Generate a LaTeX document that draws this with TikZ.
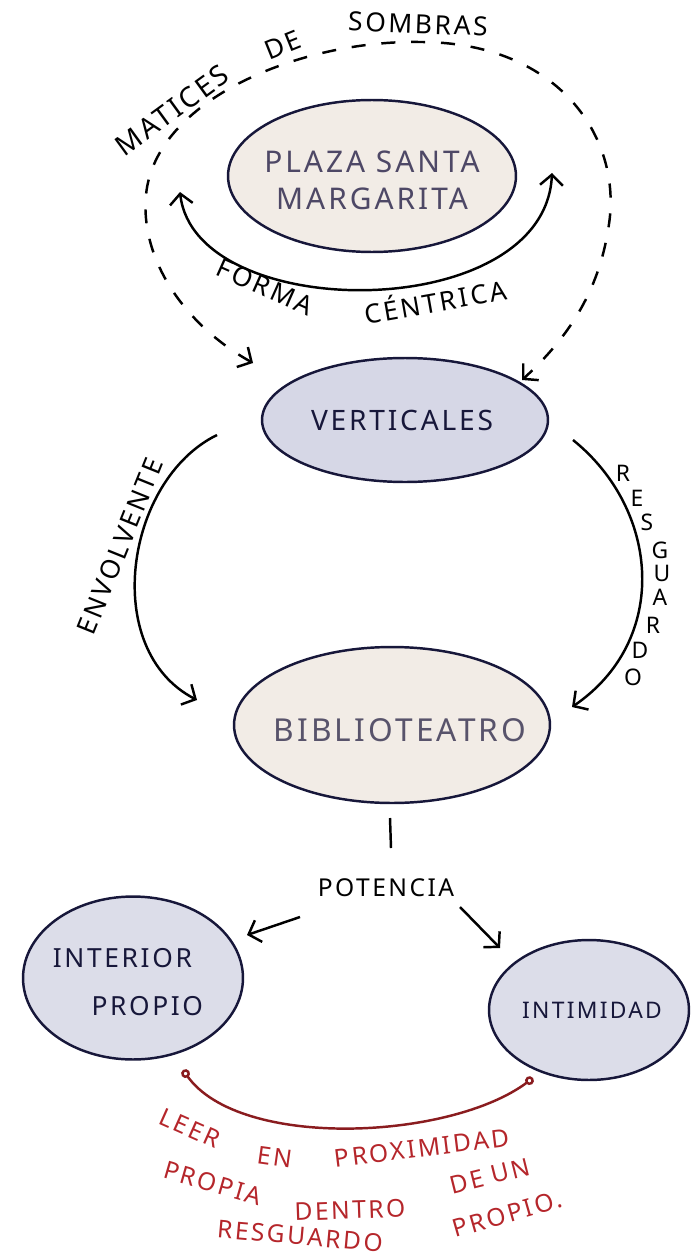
\documentclass[tikz,border=0pt]{standalone}
\usepackage{fontspec}
\setmainfont{Noto Sans}
\newfontfamily\mano[LetterSpace=10]{Noto Sans}
\usetikzlibrary{shapes.geometric,arrows.meta}

\definecolor{beige}{HTML}{F2ECE6}
\definecolor{lavanda}{HTML}{D6D7E6}
\definecolor{lavclaro}{HTML}{DCDDE9}
\definecolor{tinta}{HTML}{17173A}
\definecolor{gristxt}{HTML}{4E4866}
\definecolor{rojo}{HTML}{B5262B}
\definecolor{rojoosc}{HTML}{8A1C1F}

\begin{document}
\begin{tikzpicture}[x=0.02cm,y=-0.02cm,
		burbuja/.style={ellipse, draw=tinta, line width=1.4pt, inner sep=0pt},
		flecha/.style={line width=1.4pt, -{Straight Barb[length=6pt,width=13pt]}},
		dobleflecha/.style={line width=1.4pt, {Straight Barb[length=6pt,width=13pt]}-{Straight Barb[length=6pt,width=13pt]}},
		discontinua/.style={dobleflecha, dash pattern=on 8pt off 9pt},
		rotulo/.style={inner sep=0pt, font=\mano\fontsize{15}{18}\selectfont},
		rojotxt/.style={inner sep=0pt, text=rojo, font=\mano\fontsize{14}{17}\selectfont}]

		\useasboundingbox (0,0) rectangle (690,1257);

		% Burbujas
		\node[burbuja, fill=beige, minimum width=5.76cm, minimum height=3.04cm] (plaza) at (372,176) {};
		\node[burbuja, fill=lavanda, minimum width=5.72cm, minimum height=2.48cm] (vert) at (405,420) {};
		\node[burbuja, fill=beige, minimum width=6.32cm, minimum height=3.12cm] (biblio) at (392,725) {};
		\node[burbuja, fill=lavclaro, minimum width=4.4cm, minimum height=3.26cm] (interior) at (133,978) {};
		\node[burbuja, fill=lavclaro, minimum width=4.0cm, minimum height=2.8cm] (intim) at (589,1010) {};

		% Textos de las burbujas
		\node[rotulo, text=gristxt, align=center, font=\mano\fontsize{17}{21}\selectfont] (plazaT) at (372,180) {PLAZA SANTA\\MARGARITA};
		\node[rotulo, text=tinta, font=\mano\fontsize{16}{19}\selectfont] (vertT) at (402,420) {VERTICALES};
		\node[rotulo, text=gristxt!80!gray, font=\mano\fontsize{18}{21}\selectfont] (biblioT) at (400,730) {BIBLIOTEATRO};
		\node[rotulo, text=tinta, align=left, font=\mano\fontsize{15}{27}\selectfont] (interiorT) at (128,982) {INTERIOR\\\hspace*{22pt}PROPIO};
		\node[rotulo, text=tinta, font=\mano\fontsize{13}{15}\selectfont] (intimT) at (592,1010) {INTIMIDAD};

		% Forma centrica
		\coordinate (fc1) at (180,192);
		\coordinate (fc2) at (552,173);
		\draw[dobleflecha] (fc1) .. controls (195,325) and (545,325) .. (fc2);
		\node[rotulo, rotate=-24] (forma) at (265,287) {FORMA};
		\node[rotulo, rotate=10] (centrica) at (435,300) {CÉNTRICA};

		% Matices de sombras
		\coordinate (dizq) at (253,363);
		\coordinate (dder) at (522,380);
		\draw[discontinua] (dizq) .. controls (185,325) and (140,260) .. (146,195)
			.. controls (155,100) and (300,40) .. (420,42)
			.. controls (560,42) and (625,140) .. (608,230)
			.. controls (597,300) and (560,345) .. (dder);
		\node[rotulo, rotate=36, font=\mano\fontsize{16}{18}\selectfont] (matices) at (172,110) {MATICES};
		\node[rotulo, rotate=22] (de) at (283,45) {DE};
		\node[rotulo, rotate=-2] (sombras) at (418,24) {SOMBRAS};

		% Envolvente y resguardo
		\coordinate (env1) at (217,435);
		\coordinate (env2) at (197,700);
		\draw[flecha] (env1) .. controls (125,480) and (100,650) .. (env2);
		\node[rotulo, rotate=68] (envT) at (120,546) {ENVOLVENTE};

		\coordinate (res1) at (573,440);
		\coordinate (res2) at (572,707);
		\draw[flecha] (res1) .. controls (660,510) and (670,640) .. (res2);
		\foreach \letra/\px/\py [count=\i] in {R/623/473, E/637/498, S/647/522, G/660/550, U/662/573, A/660/597, R/653/625, D/640/650, O/633/677}
			\node[rotulo, font=\mano\fontsize{13}{14}\selectfont] (res\i) at (\px,\py) {\letra};

		% Potencia
		\coordinate (lin1) at (390,818);
		\coordinate (lin2) at (391,848);
		\draw[line width=1.4pt] (lin1) -- (lin2);
		\node[rotulo, font=\mano\fontsize{14}{17}\selectfont] (pot) at (386,888) {POTENCIA};
		\coordinate (p1) at (300,917);
		\coordinate (p2) at (247,935);
		\coordinate (p3) at (460,907);
		\coordinate (p4) at (500,948);
		\draw[flecha] (p1) -- (p2);
		\draw[flecha] (p3) -- (p4);

		% Relacion en rojo
		\coordinate (r1) at (183,1070);
		\coordinate (r2) at (533,1078);
		\draw[rojoosc, line width=1.4pt, {Circle[open,length=5pt]}-{Circle[open,length=5pt]}] (r1) .. controls (240,1150) and (450,1140) .. (r2);
		\node[rojotxt, rotate=-24] (leer) at (190,1128) {LEER};
		\node[rojotxt, rotate=-8] (en) at (275,1157) {EN};
		\node[rojotxt, rotate=7] (prox) at (422,1148) {PROXIMIDAD};
		\node[rojotxt, rotate=-16] (propia) at (213,1183) {PROPIA};
		\node[rojotxt, rotate=2] (dentro) at (350,1210) {DENTRO};
		\node[rojotxt, rotate=14] (deun) at (490,1176) {DE UN};
		\node[rojotxt, rotate=-5] (resg) at (300,1236) {RESGUARDO};
		\node[rojotxt, rotate=16] (propio) at (507,1214) {PROPIO.};

	\end{tikzpicture}
\end{document}
